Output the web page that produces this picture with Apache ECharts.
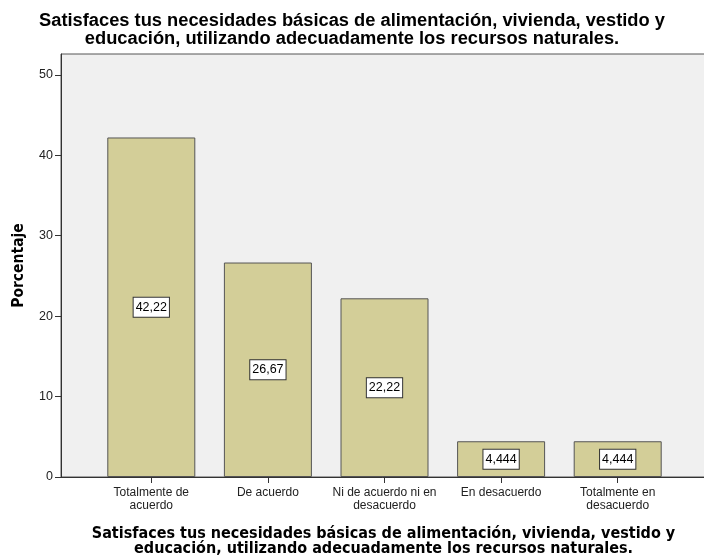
<!DOCTYPE html>
<html>
<head>
<meta charset="utf-8">
<script src="https://cdn.jsdelivr.net/npm/echarts@6/dist/echarts.min.js"></script>
<style>
  html, body { margin: 0; padding: 0; background: #fff; }
  #main { width: 704px; height: 556px; }
</style>
</head>
<body>
<div id="main"></div>
<script>
// 数据
var categories = ['Totalmente de\nacuerdo', 'De acuerdo', 'Ni de acuerdo ni en\ndesacuerdo', 'En desacuerdo', 'Totalmente en\ndesacuerdo'];
var percentages = [42.22, 26.67, 22.22, 4.444, 4.444];
var yTicks = [0, 10, 20, 30, 40, 50];

var titleText = 'Satisfaces tus necesidades básicas de alimentación, vivienda, vestido y\neducación, utilizando adecuadamente los recursos naturales.';

(function () {
    var yMax = 52.6;  // SPSS 留白
    var myechart = echarts.init(document.getElementById('main'));

    var option = {
        animation: false,
        title: {
            text: titleText,
            left: 'center',
            top: 12,
            padding: 0,
            textStyle: {
                fontFamily: 'Liberation Sans',
                fontWeight: 'bold',
                fontSize: 18.3,
                lineHeight: 18,
                color: '#000'
            }
        },
        grid: [
            // 外框 + 背景
            { left: 61, right: -2, top: 54, bottom: 79, outerBoundsMode: 'none', show: true, backgroundColor: '#f0f0f0', borderColor: '#555', borderWidth: 1 },
            // 柱子区域
            { left: 93, right: 28, top: 54, bottom: 79, outerBoundsMode: 'none' }
        ],
        xAxis: [
            {
                gridIndex: 0, type: 'value', min: 0, max: 1,
                axisLine: { show: true, lineStyle: { color: '#333', width: 1 } },
                axisTick: { show: false }, axisLabel: { show: false }, splitLine: { show: false },
                name: titleText,
                nameLocation: 'middle',
                nameGap: 49,
                nameTextStyle: {
                    fontFamily: 'DejaVu Sans Condensed',
                    fontWeight: 'bold',
                    fontSize: 16,
                    lineHeight: 15.5,
                    color: '#000'
                }
            },
            {
                gridIndex: 1, type: 'category', data: categories,
                axisLine: { show: false },
                axisTick: { show: true, alignWithLabel: true, length: 6, lineStyle: { color: '#333' } },
                axisLabel: {
                    margin: 9, fontFamily: 'Liberation Sans', fontSize: 12, lineHeight: 13,
                    color: '#222', interval: 0
                }
            }
        ],
        yAxis: [
            {
                gridIndex: 0, type: 'value', min: 0, max: yMax,
                axisLine: { show: true, lineStyle: { color: '#333', width: 1 } },
                axisTick: { show: true, length: 6, customValues: yTicks, lineStyle: { color: '#333' } },
                axisLabel: { customValues: yTicks, margin: 8, fontFamily: 'Liberation Sans', fontSize: 12.5, color: '#222' },
                splitLine: { show: false },
                name: 'Porcentaje',
                nameLocation: 'middle',
                nameRotate: 90,
                nameGap: 34,
                nameTextStyle: { fontFamily: 'DejaVu Sans Condensed', fontWeight: 'bold', fontSize: 15.5, color: '#000' }
            },
            { gridIndex: 1, type: 'value', min: 0, max: yMax, show: false }
        ],
        series: [
            {
                type: 'bar',
                xAxisIndex: 1,
                yAxisIndex: 1,
                data: percentages,
                barWidth: 88,
                itemStyle: { color: '#d3ce98', borderColor: '#555', borderWidth: 1 },
                label: {
                    show: true,
                    position: 'inside',
                    formatter: function (p) { return String(p.value).replace('.', ','); },
                    fontFamily: 'Liberation Sans',
                    fontSize: 12.5,
                    lineHeight: 14,
                    color: '#000',
                    backgroundColor: '#fff',
                    borderColor: '#333',
                    borderWidth: 1,
                    padding: [3, 2, 2, 2]
                }
            }
        ]
    };

    myechart.setOption(option);
})();
</script>
</body>
</html>
